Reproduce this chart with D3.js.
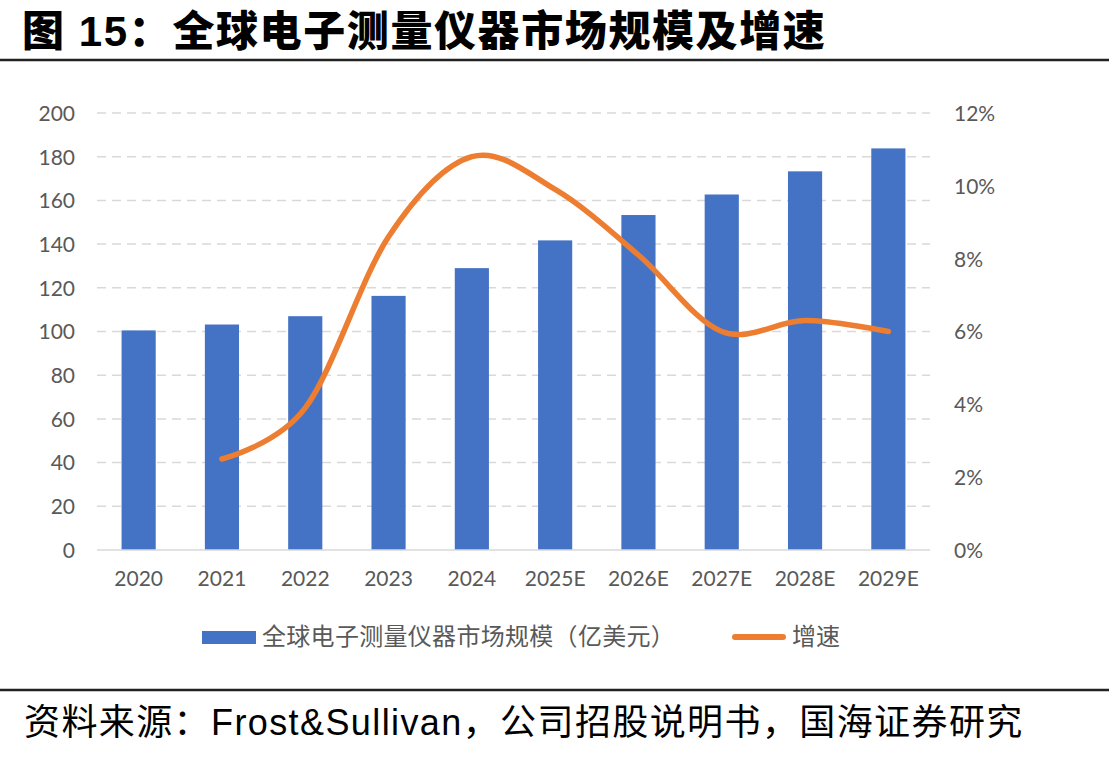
<!DOCTYPE html>
<html>
<head>
<meta charset="utf-8">
<script src="https://cdn.jsdelivr.net/npm/d3@7"></script>
<style>
    body { margin: 0; background: #fff; }
    svg { display: block; }
    .tick-label { font-family: Lato, "Open Sans", sans-serif; font-size: 21px; fill: #595959; }
    .cjk { font-family: "Liberation Sans", "Noto Sans CJK SC", sans-serif; }
</style>
</head>
<body>
<div id="chart"></div>
<script>
const years = ["2020", "2021", "2022", "2023", "2024", "2025E", "2026E", "2027E", "2028E", "2029E"];
const marketSize = [100.5, 103.2, 107.0, 116.3, 129.0, 141.7, 153.3, 162.7, 173.3, 183.8];
const growthRate = [null, 2.5, 3.9, 8.6, 10.8, 9.9, 8.1, 6.0, 6.3, 6.0];
const leftTicks = [0, 20, 40, 60, 80, 100, 120, 140, 160, 180, 200];
const rightTicks = [0, 2, 4, 6, 8, 10, 12];

const barColor = "#4472C4";
const lineColor = "#ED7D31";

const width = 1109, height = 757;
const plot = { left: 97, right: 930, top: 113, bottom: 550 };

const svg = d3.select("#chart").append("svg")
    .attr("width", width)
    .attr("height", height);

// title + rules
svg.append("text")
    .attr("class", "cjk")
    .attr("x", 22)
    .attr("y", 46)
    .style("font-size", "42px")
    .style("font-weight", 900)
    .attr("letter-spacing", 1.6)
    .text("图 15：全球电子测量仪器市场规模及增速");

svg.append("line")
    .attr("x1", 0).attr("x2", width)
    .attr("y1", 60).attr("y2", 60)
    .attr("stroke", "#222").attr("stroke-width", 2.5);

svg.append("line")
    .attr("x1", 0).attr("x2", width)
    .attr("y1", 690).attr("y2", 690)
    .attr("stroke", "#222").attr("stroke-width", 2.5);

svg.append("text")
    .attr("class", "cjk")
    .attr("x", 24)
    .attr("y", 735)
    .style("font-size", "36px")
    .attr("letter-spacing", 1.4)
    .text("资料来源：Frost&Sullivan，公司招股说明书，国海证券研究");

// scales
const x = d3.scaleBand()
    .domain(years)
    .range([plot.left, plot.right])
    .paddingInner(0.59)
    .paddingOuter(0.295);

const yLeft = d3.scaleLinear().domain([0, 200]).range([plot.bottom, plot.top]);
const yRight = d3.scaleLinear().domain([0, 12]).range([plot.bottom, plot.top]);

// gridlines
svg.append("g")
    .selectAll("line")
    .data(leftTicks.filter(t => t > 0))
    .enter()
    .append("line")
    .attr("x1", plot.left).attr("x2", plot.right)
    .attr("y1", d => yLeft(d)).attr("y2", d => yLeft(d))
    .attr("stroke", "#d9d9d9")
    .attr("stroke-width", 1.5)
    .attr("stroke-dasharray", "9,6");

// left axis
const leftAxis = svg.append("g")
    .attr("transform", `translate(${plot.left - 22},0)`)
    .call(d3.axisLeft(yLeft).tickValues(leftTicks).tickSize(0).tickPadding(0));
leftAxis.select(".domain").remove();
leftAxis.selectAll("text").attr("class", "tick-label").attr("dy", "0.35em");

// right axis
const rightAxis = svg.append("g")
    .attr("transform", `translate(${plot.right + 24},0)`)
    .call(d3.axisRight(yRight).tickValues(rightTicks).tickSize(0).tickPadding(0)
        .tickFormat(d => d + "%"));
rightAxis.select(".domain").remove();
rightAxis.selectAll("text").attr("class", "tick-label").attr("dy", "0.35em");

// bars
svg.append("g")
    .selectAll("rect")
    .data(years)
    .enter()
    .append("rect")
    .attr("x", d => x(d))
    .attr("width", x.bandwidth())
    .attr("y", (d, i) => yLeft(marketSize[i]))
    .attr("height", (d, i) => yLeft(0) - yLeft(marketSize[i]))
    .attr("fill", barColor);

// baseline
svg.append("line")
    .attr("x1", plot.left).attr("x2", plot.right)
    .attr("y1", plot.bottom).attr("y2", plot.bottom)
    .attr("stroke", "#d9d9d9").attr("stroke-width", 1.5);

// x axis labels
const bottomAxis = svg.append("g")
    .attr("transform", `translate(0,${plot.bottom + 21})`)
    .call(d3.axisBottom(x).tickSize(0).tickPadding(0));
bottomAxis.select(".domain").remove();
bottomAxis.selectAll("text").attr("class", "tick-label").attr("dy", "0.71em");

// growth line
const growthPoints = years
    .map((year, i) => ({ year, value: growthRate[i] }))
    .filter(d => d.value !== null);

const line = d3.line()
    .x(d => x(d.year) + x.bandwidth() / 2)
    .y(d => yRight(d.value))
    .curve(d3.curveCardinal.tension(0));

svg.append("path")
    .datum(growthPoints)
    .attr("d", line)
    .attr("fill", "none")
    .attr("stroke", lineColor)
    .attr("stroke-width", 5.5)
    .attr("stroke-linecap", "round");

// legend
const legend = svg.append("g").attr("transform", "translate(0,637)");

legend.append("rect")
    .attr("x", 202).attr("y", -6)
    .attr("width", 54).attr("height", 13)
    .attr("fill", barColor);

legend.append("text")
    .attr("class", "cjk")
    .attr("x", 262).attr("y", 0)
    .attr("dy", "0.35em")
    .style("font-size", "24px")
    .attr("letter-spacing", 0.3)
    .style("fill", "#595959")
    .text("全球电子测量仪器市场规模（亿美元）");

legend.append("line")
    .attr("x1", 735).attr("x2", 783)
    .attr("y1", 0).attr("y2", 0)
    .attr("stroke", lineColor)
    .attr("stroke-width", 6)
    .attr("stroke-linecap", "round");

legend.append("text")
    .attr("class", "cjk")
    .attr("x", 792).attr("y", 0)
    .attr("dy", "0.35em")
    .style("font-size", "24px")
    .style("fill", "#595959")
    .text("增速");
</script>
</body>
</html>
